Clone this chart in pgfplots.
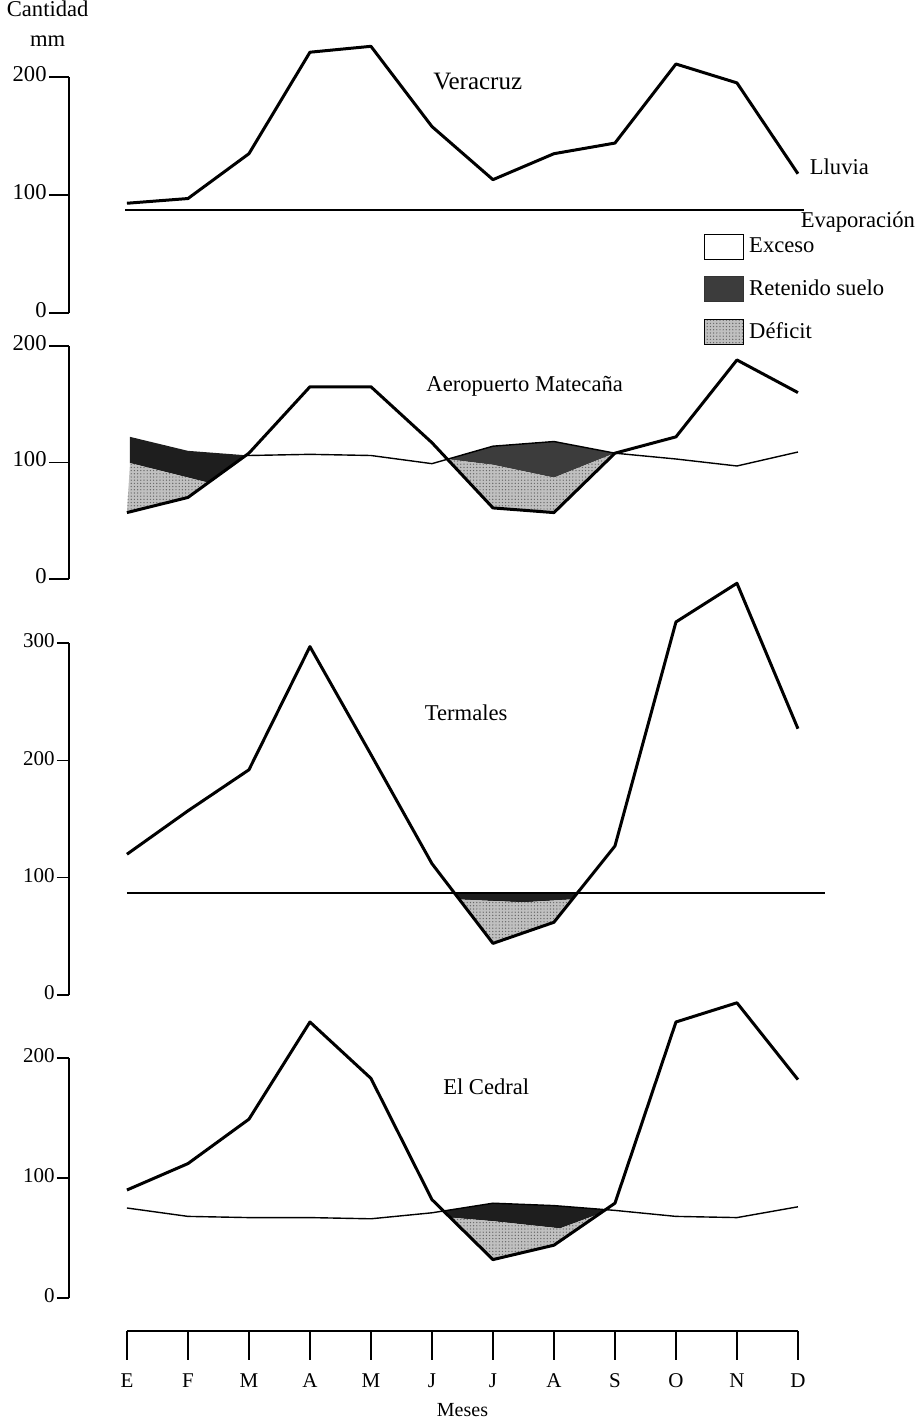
\documentclass[border=0pt]{standalone}
\usepackage{fontspec}
\setmainfont{Liberation Serif}
\usepackage{pgfplots}
\pgfplotsset{compat=1.18}
\usetikzlibrary{patterns.meta}

\definecolor{reten}{HTML}{1E1E1E}
\definecolor{retengris}{HTML}{3C3C3C}
\definecolor{defic}{HTML}{C0C0C0}

\pgfplotsset{
  panel/.style={
    x=30.5pt, xmin=0.05, xmax=12.5, ymin=0,
    axis x line=none, axis y line=left,
    y axis line style={-, line width=1pt},
    clip=false, anchor=south west,
    tick align=outside,
    ytick style={line width=0.8pt, black},
    /pgf/number format/assume math mode=true,
    yticklabel style={inner sep=1pt},
  },
  lluvia/.style={black, line width=1.5pt, line join=round},
  evap/.style={black, line width=0.8pt},
  deficit/.style={draw=none, fill=defic,
    postaction={pattern={Dots[distance=1.6pt, radius=0.35pt]}, pattern color=black!60}},
  retenido/.style={draw=none, fill=reten},
}

\begin{document}
\begin{tikzpicture}[font=\fontsize{11.3}{13}\selectfont]
\useasboundingbox (0,0) rectangle (462pt,710.5pt);

% ---- Veracruz ----
\begin{axis}[panel, at={(34.5pt,554pt)}, y=0.59pt, ymax=200, ytick={0,100,200},
  major tick length=10pt, yticklabel style={yshift=1.5pt},
  legend style={draw=none, fill=none, at={(axis cs:10.45,68)}, anchor=north west,
    inner sep=0pt, row sep=7pt, font=\fontsize{11.3}{13}\selectfont,
    nodes={inner sep=2.5pt}},
  legend cell align=left,
  legend image code/.code={\draw[#1] (0pt,-6.25pt) rectangle (19.5pt,6.25pt);},
]
\addplot[evap, line width=1pt, forget plot] coordinates {(0.97,87) (12.1,87)};
\addplot[lluvia, forget plot] coordinates {
  (1,93) (2,97) (3,135) (4,221) (5,226) (6,158)
  (7,113) (8,135) (9,144) (10,211) (11,195) (12,118)};
\node[font=\fontsize{12.5}{14}\selectfont] at (axis cs:6.75,196) {Veracruz};
\node[anchor=west] at (axis cs:12.08,124) {Lluvia};
\node[anchor=west] at (axis cs:11.93,77) {Evaporación};
\node[align=center, inner sep=0pt] at (axis cs:-0.3,245) {Cantidad\\[2pt]mm};
\addlegendimage{draw=black, line width=0.7pt, fill=white}
\addlegendentry{Exceso}
\addlegendimage{draw=black!80, line width=0.5pt, fill=retengris}
\addlegendentry{Retenido suelo}
\addlegendimage{draw=black, line width=0.7pt, fill=defic,
  postaction={pattern={Dots[distance=1.6pt, radius=0.35pt]}, pattern color=black!60}}
\addlegendentry{Déficit}
\end{axis}

% ---- Aeropuerto Matecaña ----
\begin{axis}[panel, at={(34.5pt,421pt)}, y=0.5825pt, ymax=200, ytick={0,100,200},
  major tick length=10pt, yticklabel style={yshift=1.5pt}]
\addplot[retenido] coordinates {(1.05,122) (2,110) (2.95,106.2) (2.333,82.7) (1.05,99.5)} -- cycle;
\addplot[deficit] coordinates {(1.05,99.5) (2.333,82.7) (2,70) (1,57)} -- cycle;
\addplot[draw=none, fill=retengris] coordinates {(6.254,102.8) (7,114) (8,118) (9,108) (8,87) (7,98)} -- cycle;
\addplot[deficit] coordinates {(6.254,102.8) (7,98) (8,87) (9,108) (8,57) (7,61)} -- cycle;
\addplot[evap, line width=0.7pt] coordinates {
  (2.95,106.2) (3,106) (4,107) (5,106) (6,99)
  (7,114) (8,118) (9,108) (10,103) (11,97) (12,109)};
\addplot[lluvia] coordinates {
  (1,57) (2,70) (3,108) (4,165) (5,165) (6,117)
  (7,61) (8,57) (9,108) (10,122) (11,188) (12,160)};
\node at (axis cs:7.52,165) {Aeropuerto Matecaña};
\end{axis}

% ---- Termales ----
\begin{axis}[panel, at={(34.5pt,213pt)}, y=0.5865pt, ymax=300, ytick={0,100,200,300},
  major tick length=6pt,
  yticklabel style={yshift=1pt, font=\fontsize{10.5}{12}\selectfont}]
\addplot[retenido] coordinates {(6.368,87) (8.385,87) (8.3,81.5) (7.5,79) (6.45,81.4)} -- cycle;
\addplot[deficit] coordinates {(6.45,81.4) (7.5,79) (8.3,81.5) (8,62) (7,44)} -- cycle;
\addplot[evap, line width=1pt] coordinates {(1,87) (12.45,87)};
\addplot[lluvia] coordinates {
  (1,120) (2,157) (3,192) (4,297) (5,205) (6,112)
  (7,44) (8,62) (9,127) (10,318) (11,351) (12,227)};
\node at (axis cs:6.56,241) {Termales};
\end{axis}

% ---- El Cedral ----
\begin{axis}[panel, at={(34.5pt,61.5pt)}, y=0.6pt, ymax=200, ytick={0,100,200},
  major tick length=6pt,
  yticklabel style={yshift=1pt, font=\fontsize{10.5}{12}\selectfont}]
\addplot[retenido] coordinates {(6.19,72.5) (7,79) (8,77) (8.846,73.6) (8.75,70.25) (8.1,58) (7,64) (6.3,67)} -- cycle;
\addplot[deficit] coordinates {(6.3,67) (7,64) (8.1,58) (8.75,70.25) (8,44) (7,32)} -- cycle;
\addplot[evap, line width=0.7pt] coordinates {
  (1,75) (2,68) (3,67) (4,67) (5,66) (6,71)
  (7,79) (8,77) (9,73) (10,68) (11,67) (12,76)};
\addplot[lluvia] coordinates {
  (1,90) (2,112) (3,149) (4,230) (5,183) (6,82)
  (7,32) (8,44) (9,79) (10,230) (11,246) (12,182)};
\node at (axis cs:6.89,176) {El Cedral};
\end{axis}

% ---- eje de meses ----
\begin{axis}[at={(63.5pt,45pt)}, anchor=south west, x=30.5pt, y=1pt,
  xmin=1, xmax=12, ymin=0, ymax=1,
  axis y line=none, axis x line=bottom, x axis line style={-, line width=0.8pt},
  xtick={1,...,12}, xticklabels={E,F,M,A,M,J,J,A,S,O,N,D},
  tick align=outside, major tick length=14.5pt, xtick style={line width=0.7pt, black},
  xticklabel style={font=\fontsize{10.5}{12}\selectfont, yshift=-3.5pt},
  xlabel={Meses},
  xlabel style={at={(axis description cs:0.5,0)}, anchor=center, yshift=-39.5pt,
    font=\fontsize{10}{12}\selectfont},
]
\end{axis}
\end{tikzpicture}
\end{document}
